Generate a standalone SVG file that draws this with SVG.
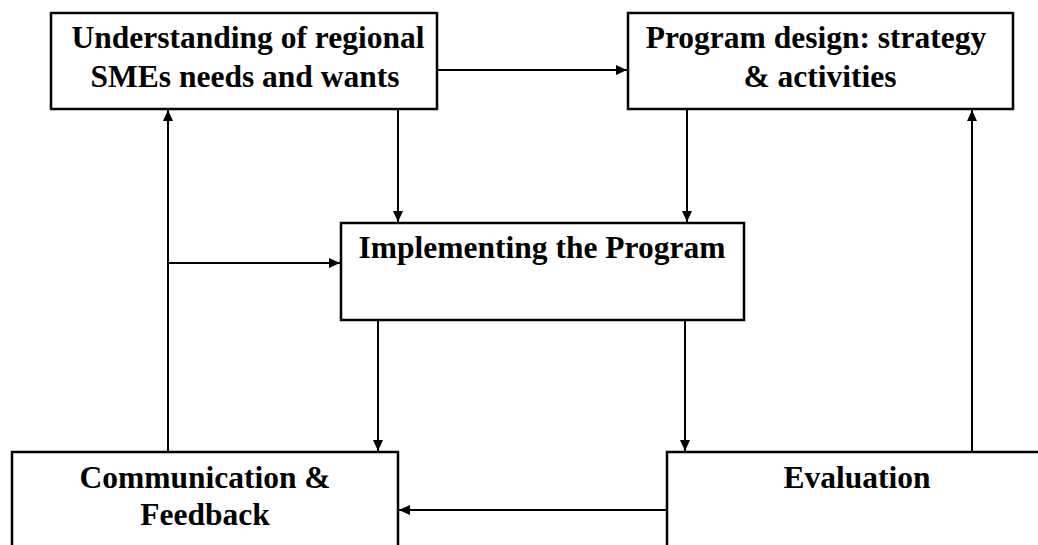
<svg xmlns="http://www.w3.org/2000/svg" width="1038" height="545" viewBox="0 0 1038 545">
<style>
.box{fill:#fff;stroke:#000;stroke-width:2.5}
.lbl{font-family:"Liberation Serif","Times New Roman",serif;font-weight:bold;font-size:31.5px;fill:#000;text-anchor:middle}
.con{fill:none;stroke:#000;stroke-width:2}
</style>
<defs>
<marker id="ah" markerUnits="userSpaceOnUse" markerWidth="11" markerHeight="10" refX="11" refY="5" orient="auto">
<path d="M0,0 L11,5 L0,10 z" fill="#000"/>
</marker>
</defs>
<rect width="1038" height="545" fill="#fff"/>
<g id="connectors">
<path class="con" d="M437,70 H627" marker-end="url(#ah)"/>
<path class="con" d="M398,109 V222" marker-end="url(#ah)"/>
<path class="con" d="M687,109 V222" marker-end="url(#ah)"/>
<path class="con" d="M168,452 V110" marker-end="url(#ah)"/>
<path class="con" d="M168,263 H340" marker-end="url(#ah)"/>
<path class="con" d="M378,320 V451" marker-end="url(#ah)"/>
<path class="con" d="M685,320 V451" marker-end="url(#ah)"/>
<path class="con" d="M972,452 V110" marker-end="url(#ah)"/>
<path class="con" d="M667,510 H399" marker-end="url(#ah)"/>
</g>
<g id="understanding">
<rect class="box" x="51" y="13" width="386" height="96"/>
<text class="lbl" x="248" y="48">Understanding of regional</text>
<text class="lbl" x="245" y="87">SMEs needs and wants</text>
</g>
<g id="program-design">
<rect class="box" x="628" y="13" width="385" height="96"/>
<text class="lbl" x="816" y="48">Program design: strategy</text>
<text class="lbl" x="820" y="87">&amp; activities</text>
</g>
<g id="implementing">
<rect class="box" x="341" y="223" width="403" height="97"/>
<text class="lbl" x="542" y="258">Implementing the Program</text>
</g>
<g id="communication">
<rect class="box" x="12" y="452" width="386" height="120"/>
<text class="lbl" x="205" y="488">Communication &amp;</text>
<text class="lbl" x="205" y="525">Feedback</text>
</g>
<g id="evaluation">
<rect class="box" x="667" y="452" width="400" height="120"/>
<text class="lbl" x="857" y="488">Evaluation</text>
</g>
</svg>
